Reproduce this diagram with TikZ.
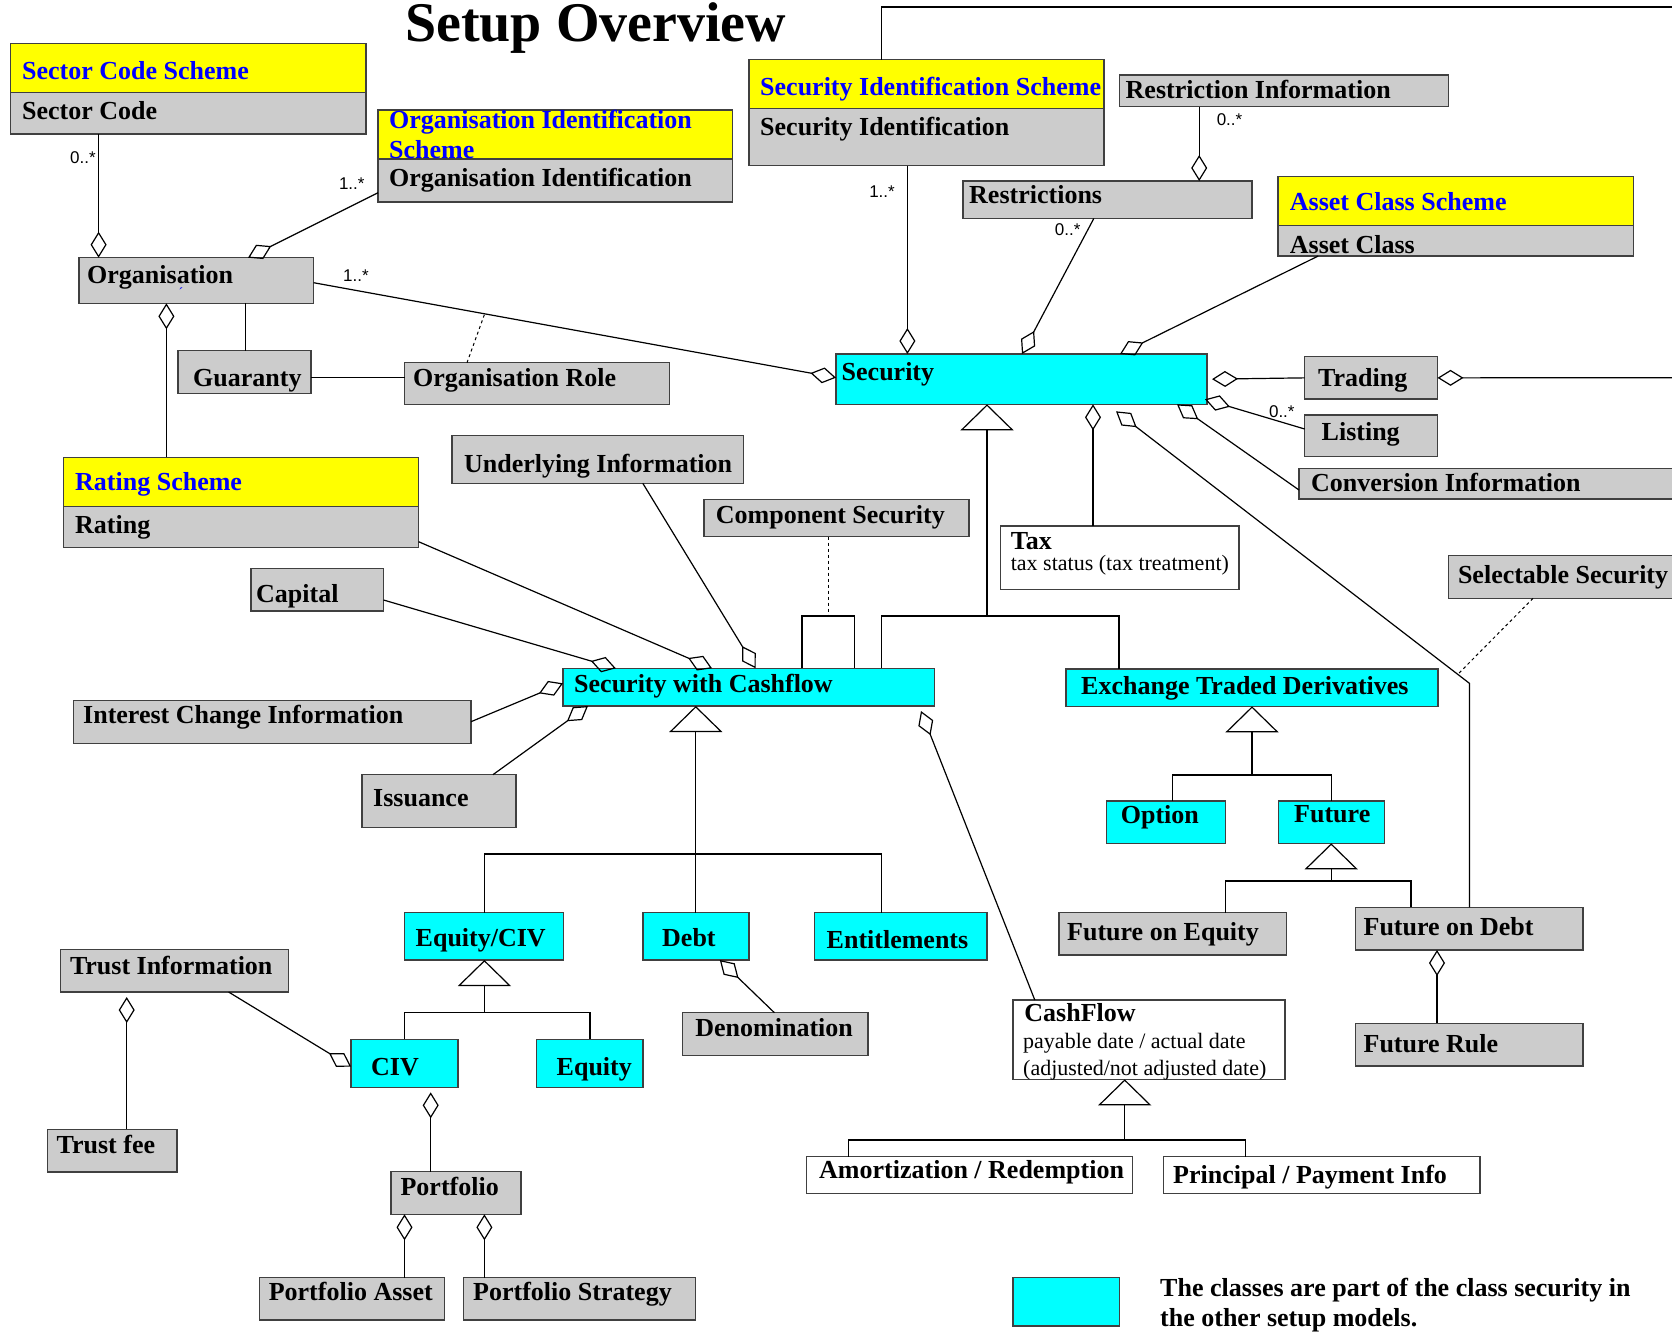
\documentclass[tikz,border=0pt]{standalone}
\usepackage{fontspec}
\setmainfont{Liberation Serif}
\setsansfont{Liberation Sans}
\usetikzlibrary{arrows.meta,calc}
\definecolor{umlyellow}{HTML}{FFFF00}
\definecolor{umlgray}{HTML}{CCCCCC}
\definecolor{umlcyan}{HTML}{00FFFF}
\definecolor{umlblue}{HTML}{0000FF}

\begin{document}
\begin{tikzpicture}[x=1pt, y=-1pt,
	cls/.style={draw=black!75, line width=1.5pt, anchor=north west, inner sep=0pt, outer sep=0pt},
	gbox/.style={cls, fill=umlgray},
	ybox/.style={cls, fill=umlyellow},
	cbox/.style={cls, fill=umlcyan},
	wbox/.style={cls, fill=white},
	lbl/.style={anchor=base west, inner sep=0pt, font=\fontsize{26}{30}\selectfont\bfseries},
	blbl/.style={lbl, text=umlblue},
	note/.style={anchor=base west, inner sep=0pt, font=\fontsize{22}{26}\selectfont},
	mult/.style={inner sep=0pt, font=\sffamily\fontsize{17}{20}\selectfont},
	title/.style={anchor=base west, inner sep=0pt, font=\fontsize{56}{60}\selectfont\bfseries},
	link/.style={line width=1.2pt},
	agg/.style={link, -{Diamond[open, length=26pt, width=16pt]}},
	gen/.style={link, -{Triangle[open, length=26pt, width=53pt]}},
	dep/.style={dashed, line width=1pt}]
	\useasboundingbox (0,0) rectangle (1672,1331);
	\fill[white] (0,0) rectangle (1672,1331);
	\clip (0,0) rectangle (1672,1331);

	\node[title] (title) at (405,41.7) {Setup Overview};

	% scheme classes
	\node[ybox, minimum width=355.3, minimum height=49.2] (scs) at (10.7,43.5) {};
	\node[gbox, minimum width=355.3, minimum height=41.3] (sc) at (10.7,92.7) {};
	\node[blbl] (scsL) at (22,79.3) {Sector Code Scheme};
	\node[lbl] (scL) at (22,119.3) {Sector Code};

	\node[ybox, minimum width=354.6, minimum height=49] (ois) at (378,110) {};
	\node[gbox, minimum width=354.6, minimum height=43] (oi) at (378,159) {};
	\node[blbl] (oisL) at (389,128.3) {Organisation Identification};
	\node[blbl] (oisL2) at (389,158.3) {Scheme};
	\node[lbl] (oiL) at (389,186.7) {Organisation Identification};

	\node[ybox, minimum width=355, minimum height=48.6] (secids) at (749,59.7) {};
	\node[gbox, minimum width=355, minimum height=57.4] (secid) at (749,108.3) {};
	\node[blbl] (secidsL) at (760,95) {Security Identification Scheme};
	\node[lbl] (secidL) at (760,135) {Security Identification};

	\node[ybox, minimum width=355.4, minimum height=49] (acs) at (1278,176.7) {};
	\node[gbox, minimum width=355.4, minimum height=30.3] (ac) at (1278,225.7) {};
	\node[blbl] (acsL) at (1289.7,210.7) {Asset Class Scheme};
	\node[lbl] (acL) at (1289.7,253.3) {Asset Class};

	\node[ybox, minimum width=355, minimum height=49.4] (rats) at (63.6,457.3) {};
	\node[gbox, minimum width=355, minimum height=40.6] (rat) at (63.6,506.7) {};
	\node[blbl] (ratsL) at (75,490.7) {Rating Scheme};
	\node[lbl] (ratL) at (75,533.3) {Rating};

	% organisation side
	\node[gbox, minimum width=234.6, minimum height=45.6] (org) at (79,257.7) {};
	\node[lbl] (orgL) at (87,283.3) {Organisation};
	\node[inner sep=0pt, text=umlblue, font=\fontsize{14}{14}\selectfont] (orgtick) at (181,293) {\textasciiacute};
	\node[gbox, minimum width=133, minimum height=42.6] (guar) at (178,350.7) {};
	\node[lbl] (guarL) at (193,386.7) {Guaranty};
	\node[gbox, minimum width=265, minimum height=41.6] (orole) at (404.6,362.7) {};
	\node[lbl] (oroleL) at (413,386) {Organisation Role};

	% security and its parts
	\node[cbox, minimum width=371, minimum height=50.3] (security) at (836,354) {};
	\node[lbl] (securityL) at (841.5,380) {Security};
	\node[gbox, minimum width=329, minimum height=31.7] (restinfo) at (1119.3,75) {};
	\node[lbl] (restinfoL) at (1125.5,98.3) {Restriction Information};
	\node[gbox, minimum width=289, minimum height=37.5] (restr) at (963,181) {};
	\node[lbl] (restrL) at (969,203.3) {Restrictions};
	\node[gbox, minimum width=132.8, minimum height=42.3] (trading) at (1304.7,356.7) {};
	\node[lbl] (tradingL) at (1318,386.7) {Trading};
	\node[gbox, minimum width=132.8, minimum height=41.7] (listing) at (1304.7,415) {};
	\node[lbl] (listingL) at (1321.5,440) {Listing};
	\node[gbox, minimum width=390, minimum height=30.7] (conv) at (1299,468.3) {};
	\node[lbl] (convL) at (1311,491.7) {Conversion Information};
	\node[wbox, minimum width=238.4, minimum height=63.3] (tax) at (1000.6,526) {};
	\node[lbl] (taxL) at (1010.6,549.3) {Tax};
	\node[note] (taxN) at (1010.6,570) {tax status (tax treatment)};
	\node[gbox, minimum width=240, minimum height=42.6] (selsec) at (1448.7,555.7) {};
	\node[lbl] (selsecL) at (1457.8,583.3) {Selectable Security};

	% security with cashflow
	\node[cbox, minimum width=371.4, minimum height=37.7] (swc) at (563,668.3) {};
	\node[lbl] (swcL) at (574,692.7) {Security with Cashflow};
	\node[gbox, minimum width=291.5, minimum height=47.6] (under) at (452,435.7) {};
	\node[lbl] (underL) at (464,472.7) {Underlying Information};
	\node[gbox, minimum width=265, minimum height=37.4] (comp) at (704,499.3) {};
	\node[lbl] (compL) at (715.7,523.3) {Component Security};
	\node[gbox, minimum width=132.6, minimum height=42.3] (capital) at (251,568.7) {};
	\node[lbl] (capitalL) at (256,602.7) {Capital};
	\node[gbox, minimum width=397.4, minimum height=42.6] (ici) at (73.6,700.7) {};
	\node[lbl] (iciL) at (83,723.3) {Interest Change Information};
	\node[gbox, minimum width=154, minimum height=52.7] (issuance) at (362,774.7) {};
	\node[lbl] (issuanceL) at (373,806.7) {Issuance};

	\node[cbox, minimum width=158.9, minimum height=47.3] (eqciv) at (404.5,912.7) {};
	\node[lbl] (eqcivL) at (415.5,946.7) {Equity/CIV};
	\node[cbox, minimum width=106, minimum height=47.3] (debt) at (643,912.7) {};
	\node[lbl] (debtL) at (662,946.7) {Debt};
	\node[cbox, minimum width=172.3, minimum height=47.3] (entit) at (814.7,912.7) {};
	\node[lbl] (entitL) at (826.5,948.3) {Entitlements};
	\node[gbox, minimum width=185.6, minimum height=43] (denom) at (682.4,1012.7) {};
	\node[lbl] (denomL) at (695.2,1036.7) {Denomination};
	\node[cbox, minimum width=106.6, minimum height=48] (civ) at (351.2,1039.3) {};
	\node[lbl] (civL) at (371,1075) {CIV};
	\node[cbox, minimum width=106.1, minimum height=48] (equity) at (536.7,1039.3) {};
	\node[lbl] (equityL) at (556.5,1075) {Equity};
	\node[gbox, minimum width=227.7, minimum height=42.7] (trustinfo) at (60.6,949.3) {};
	\node[lbl] (trustinfoL) at (69.8,974) {Trust Information};
	\node[gbox, minimum width=129.5, minimum height=42.7] (trustfee) at (47.3,1129.3) {};
	\node[lbl] (trustfeeL) at (56.5,1153.3) {Trust fee};
	\node[gbox, minimum width=129.9, minimum height=42.6] (portfolio) at (391.2,1171.7) {};
	\node[lbl] (portfolioL) at (400.4,1195) {Portfolio};
	\node[gbox, minimum width=185, minimum height=42.3] (passet) at (259.4,1277.7) {};
	\node[lbl] (passetL) at (268.6,1300) {Portfolio Asset};
	\node[gbox, minimum width=231.9, minimum height=42.3] (pstrat) at (463.7,1277.7) {};
	\node[lbl] (pstratL) at (473,1300) {Portfolio Strategy};

	\node[wbox, minimum width=272.2, minimum height=79.3] (cashflow) at (1013,1000) {};
	\node[lbl] (cashflowL) at (1024.2,1021.7) {CashFlow};
	\node[note] (cashflowN) at (1023,1048.3) {payable date / actual date};
	\node[note] (cashflowN2) at (1023,1075) {(adjusted/not adjusted date)};
	\node[wbox, minimum width=326.1, minimum height=36.6] (amort) at (806.6,1156.7) {};
	\node[lbl] (amortL) at (819,1178.3) {Amortization / Redemption};
	\node[wbox, minimum width=316.3, minimum height=36.6] (princ) at (1163.7,1156.7) {};
	\node[lbl] (princL) at (1173,1183.3) {Principal / Payment Info};

	% derivatives
	\node[cbox, minimum width=372, minimum height=37.3] (etd) at (1066,669) {};
	\node[lbl] (etdL) at (1081,694) {Exchange Traded Derivatives};
	\node[cbox, minimum width=119, minimum height=42.3] (option) at (1106.3,801) {};
	\node[lbl] (optionL) at (1120.6,823.3) {Option};
	\node[cbox, minimum width=105.9, minimum height=42.3] (future) at (1278.5,801) {};
	\node[lbl] (futureL) at (1294,822.7) {Future};
	\node[gbox, minimum width=227.5, minimum height=42.3] (foe) at (1059,912.7) {};
	\node[lbl] (foeL) at (1067,940.7) {Future on Equity};
	\node[gbox, minimum width=227.5, minimum height=42.7] (fod) at (1355.3,907.3) {};
	\node[lbl] (fodL) at (1363.4,935) {Future on Debt};
	\node[gbox, minimum width=227.5, minimum height=42.7] (frule) at (1355.3,1023.3) {};
	\node[lbl] (fruleL) at (1363.4,1052.7) {Future Rule};

	% legend
	\node[cbox, minimum width=106.7, minimum height=48.3] (legend) at (1013,1277.7) {};
	\node[lbl] (legendL) at (1160,1296.7) {The classes are part of the class security in};
	\node[lbl] (legendL2) at (1160,1326.7) {the other setup models.};

	% free ends and forks
	\coordinate (topout) at (1680,7);
	\coordinate (tradeout) at (1680,377.8);
	\coordinate (rolejoin) at (484.6,314);
	\coordinate (selsecjoin) at (1457.8,674.3);
	\coordinate (fodbend) at (1469.4,683.3);
	\coordinate (compjoin) at (828.6,616);
	\coordinate (secfork) at (987,616);
	\coordinate (swcfork) at (695.8,854);
	\coordinate (eqfork) at (484.4,1012.7);
	\coordinate (etdfork) at (1252,775);
	\coordinate (futfork) at (1331.2,881);
	\coordinate (cffork) at (1124.7,1140);

	% aggregations
	\draw[agg] (98.6,0 |- sc.south) -- (98.6,0 |- org.north);
	\draw[agg] (oi.west |- 0,192.7) -- (248,0 |- org.north);
	\draw[agg] (org.east |- 0,282.7) -- (security.west |- 0,377.7);
	\draw[agg] (166.4,0 |- rats.north) -- (166.4,0 |- org.south);
	\draw[link] (245.7,0 |- org.south) -- (245.7,0 |- guar.north);
	\draw[link] (guar.east |- 0,377.7) -- (orole.west |- 0,377.7);
	\draw[dep] (467,0 |- orole.north) -- (rolejoin);
	\draw[agg] (907.4,0 |- secid.south) -- (907.4,0 |- security.north);
	\draw[link] (881.5,0 |- secids.north) |- (topout);
	\draw[agg] (1093.8,0 |- restr.south) -- (1022,0 |- security.north);
	\draw[agg] (1199.2,0 |- restinfo.south) -- (1199.2,0 |- restr.north);
	\draw[agg] (1318.2,0 |- ac.south) -- (1120,0 |- security.north);
	\draw[agg] (trading.west) -- ($(security.east)+(5,0)$);
	\draw[agg] (tradeout) -- (trading.east);
	\draw[agg] (listing.west |- 0,429) -- ($(security.south east)+(-2,-5)$);
	\draw[agg] (conv.west |- 0,490) -- (1177,0 |- security.south);
	\draw[agg] (1093,0 |- tax.north) -- (1093,0 |- security.south);
	\draw[agg] (1469.4,0 |- fod.north) -- (fodbend) -- ($(1116,0 |- security.south)+(0,7)$);
	\draw[dep] (1533,0 |- selsec.south) -- (selsecjoin);

	\draw[agg] (rat.east |- 0,541.7) -- (712,0 |- swc.north);
	\draw[agg] (642.8,0 |- under.south) -- (755.7,0 |- swc.north);
	\draw[agg] (capital.east |- 0,600) -- (615.8,0 |- swc.north);
	\draw[agg] (ici.east |- 0,721.7) -- (swc.west |- 0,683.3);
	\draw[agg] (492.9,0 |- issuance.north) -- (588,0 |- swc.south);
	\draw[agg] (1034.8,0 |- cashflow.north) -- ($(921,0 |- swc.south)+(0,5)$);
	\draw[link] (802,0 |- swc.north) |- (854.5,616) -- (854.5,0 |- swc.north);
	\draw[dep] (828.6,0 |- comp.south) -- (compjoin);
	\draw[agg] (774.4,0 |- denom.north) -- (719.8,0 |- debt.south);
	\draw[agg] (228.6,0 |- trustinfo.south) -- (civ.west |- 0,1066.7);
	\draw[agg] (126.7,0 |- trustfee.north) -- ($(126.7,0 |- trustinfo.south)+(0,5)$);
	\draw[agg] (430.7,0 |- portfolio.north) -- ($(430.7,0 |- civ.south)+(0,5)$);
	\draw[agg] (404.5,0 |- passet.north) -- (404.5,0 |- portfolio.south);
	\draw[agg] (484.4,0 |- pstrat.north) -- (484.4,0 |- portfolio.south);
	\draw[agg] (1437,0 |- frule.north) -- (1437,0 |- fod.south);

	% generalisations
	\draw[gen] (secfork) -- (987,0 |- security.south);
	\draw[link] (881.5,0 |- swc.north) |- (secfork) -| (1119,0 |- etd.north);
	\draw[gen] (swcfork) -- (695.8,0 |- swc.south);
	\draw[link] (484.4,0 |- eqciv.north) |- (swcfork) -| (881.6,0 |- entit.north);
	\draw[link] (swcfork) -- (695.8,0 |- debt.north);
	\draw[gen] (eqfork) -- (484.4,0 |- eqciv.south);
	\draw[link] (404.5,0 |- civ.north) |- (eqfork) -| (590,0 |- equity.north);
	\draw[gen] (etdfork) -- (1252,0 |- etd.south);
	\draw[link] (1172.6,0 |- option.north) |- (etdfork) -| (1331.2,0 |- future.north);
	\draw[gen] (futfork) -- (1331.2,0 |- future.south);
	\draw[link] (1225.3,0 |- foe.north) |- (futfork) -| (1411,0 |- fod.north);
	\draw[gen] (cffork) -- (1124.7,0 |- cashflow.south);
	\draw[link] (848.8,0 |- amort.north) |- (cffork) -| (1245.6,0 |- princ.north);

	% multiplicities
	\node[mult] (mSc) at (83,157.7) {0..*};
	\node[mult] (mOi) at (351.8,183.3) {1..*};
	\node[mult] (mOrg) at (356,276) {1..*};
	\node[mult] (mSecid) at (882,191.7) {1..*};
	\node[mult] (mRestr) at (1067.6,230) {0..*};
	\node[mult] (mRestinfo) at (1229.5,120) {0..*};
	\node[mult] (mListing) at (1281.8,411.7) {0..*};

\end{tikzpicture}
\end{document}
